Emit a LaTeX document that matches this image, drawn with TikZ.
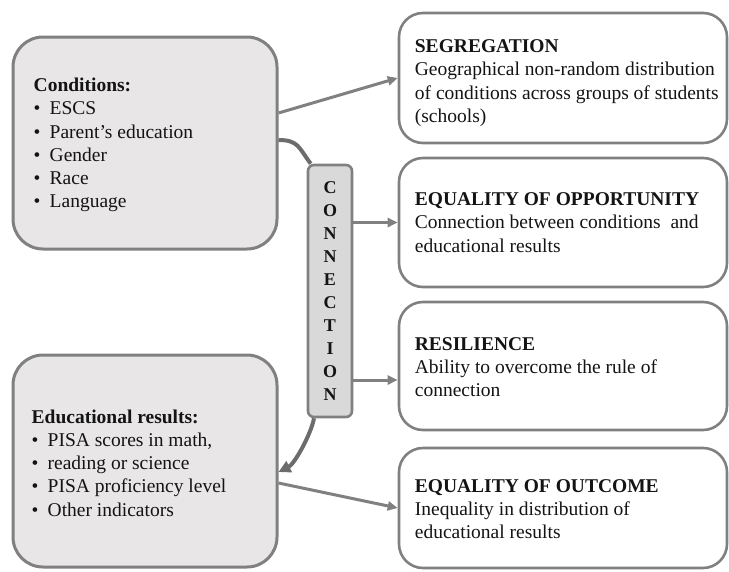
\documentclass[tikz,border=0pt]{standalone}
\usepackage{fontspec}
\setmainfont{Liberation Serif}
\usetikzlibrary{arrows.meta}
\definecolor{edgegray}{RGB}{128,128,128}
\definecolor{lfill}{RGB}{232,230,230}
\definecolor{cfill}{RGB}{217,217,217}
\definecolor{arcgray}{RGB}{108,108,108}
\definecolor{ink}{RGB}{20,20,20}
\begin{document}
\begin{tikzpicture}[x=1pt,y=-1pt,
  leftbox/.style={draw=edgegray, line width=3pt, fill=lfill, rounded corners=30pt,
    minimum width=264pt, minimum height=212pt, inner sep=0pt},
  rightbox/.style={draw=edgegray, line width=2.6pt, fill=white, rounded corners=24pt,
    minimum width=328pt, inner sep=0pt},
  txt/.style={anchor=west, align=left, inner sep=0pt, text=ink,
    font=\fontsize{19.5}{23.3}\selectfont},
  conbox/.style={draw=edgegray, line width=2.6pt, fill=cfill, rounded corners=6pt,
    minimum width=44pt, minimum height=252pt, inner sep=0pt, align=center, text=ink,
    font=\fontsize{18}{23}\selectfont\bfseries},
  link/.style={draw=edgegray, line width=3pt, -{Triangle[length=10pt,width=9pt]}},
  arcline/.style={draw=arcgray, line width=4pt},
  ]
\useasboundingbox (0,0) rectangle (729,571);

% left boxes
\node[leftbox] (cond) at (145,143) {};
\node[leftbox] (edu) at (145,461) {};
\node[txt] (condtxt) at ([xshift=22pt,yshift=-2pt]cond.west)
  {\textbf{Conditions:}\\
   \makebox[16pt][l]{\textbullet}ESCS\\
   \makebox[16pt][l]{\textbullet}Parent’s education\\
   \makebox[16pt][l]{\textbullet}Gender\\
   \makebox[16pt][l]{\textbullet}Race\\
   \makebox[16pt][l]{\textbullet}Language};
\node[txt] (edutxt) at ([xshift=20pt,yshift=-2pt]edu.west)
  {\textbf{Educational results:}\\
   \makebox[16pt][l]{\textbullet}PISA scores in math,\\
   \makebox[16pt][l]{\textbullet}reading or science\\
   \makebox[16pt][l]{\textbullet}PISA proficiency level\\
   \makebox[16pt][l]{\textbullet}Other indicators};

% right boxes
\node[rightbox, minimum height=130pt] (seg) at (563,78) {};
\node[rightbox, minimum height=129pt] (opp) at (563,222.5) {};
\node[rightbox, minimum height=128pt] (res) at (563,366) {};
\node[rightbox, minimum height=120pt] (out) at (563,508) {};
\node[txt] (segtxt) at ([xshift=17pt,yshift=-5pt]seg.west)
  {\textbf{SEGREGATION}\\Geographical non-random distribution\\of conditions across groups of students\\(schools)};
\node[txt] (opptxt) at ([xshift=17pt]opp.west)
  {\textbf{EQUALITY OF OPPORTUNITY}\\Connection between conditions~ and\\educational results};
\node[txt] (restxt) at ([xshift=17pt,yshift=-1pt]res.west)
  {\textbf{RESILIENCE}\\Ability to overcome the rule of\\connection};
\node[txt] (outtxt) at ([xshift=17pt,yshift=-1pt]out.west)
  {\textbf{EQUALITY OF OUTCOME}\\Inequality in distribution of\\educational results};

% connection box
\node[conbox] (conn) at (330,291) {C\\O\\N\\N\\E\\C\\T\\I\\O\\N};

% connectors
\coordinate (resin) at ([yshift=-14pt]res.west);
\draw[link] ([yshift=30pt]cond.east) -- (seg.west);
\draw[link] (conn.east |- opp.west) -- (opp.west);
\draw[link] (conn.east |- resin) -- (resin);
\draw[link] ([yshift=-22pt]edu.east) -- (out.west);
\draw[arcline] ([yshift=3pt]cond.east) .. controls +(20,0) and +(-12,-16) .. ([xshift=4pt]conn.north west);
\draw[arcline, -{Triangle[length=12pt,width=12pt]}] ([xshift=-16pt]conn.south)
  .. controls +(-3,16) and +(16,-8) .. ([yshift=-11pt]edu.east);
\end{tikzpicture}
\end{document}
